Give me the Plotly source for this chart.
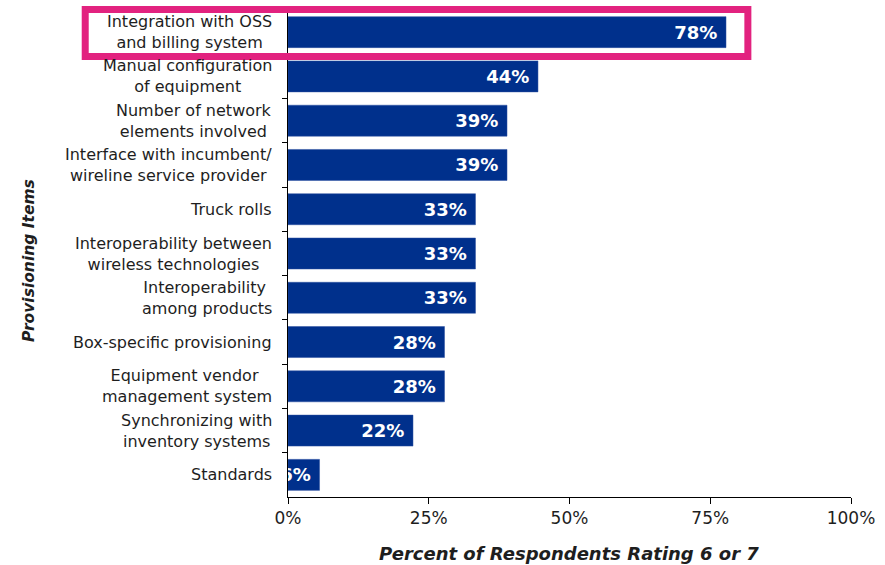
import plotly.graph_objects as go

categories = [
    "Integration with OSS<br>and billing system",
    "Manual configuration<br>of equipment",
    "Number of network<br>elements involved",
    "Interface with incumbent/<br>wireline service provider",
    "Truck rolls",
    "Interoperability between<br>wireless technologies",
    "Interoperability <br>among products",
    "Box-specific provisioning",
    "Equipment vendor <br>management system",
    "Synchronizing with<br>inventory systems",
    "Standards",
]
values = [77.8, 44.4, 38.9, 38.9, 33.3, 33.3, 33.3, 27.8, 27.8, 22.2, 5.6]
x_ticks = [0, 25, 50, 75, 100]
x_tick_labels = ["0%", "25%", "50%", "75%", "100%"]
x_title = "Percent of Respondents Rating 6 or 7"
y_title = "Provisioning Items"

FONT = "DejaVu Sans, Liberation Sans, sans-serif"
BAR = "#00308C"
PINK = "#E2227F"
TXT = "#1e1e1e"

L, R, T, B = 288, 32, 10, 68
W, H = 885, 565
PW, PH = W - L - R, H - T - B

def px_x(p):
    return (p - L) / PW

def px_y(p):
    return (H - B - p) / PH

fig = go.Figure()
fig.add_trace(go.Bar(
    y=categories, x=values, orientation="h",
    marker=dict(color=BAR, line=dict(color="#2a4fa0", width=0.5)),
    width=0.7,
    texttemplate="<b>%{x:.0f}%</b>\u00a0",
    textposition="inside", insidetextanchor="end",
    constraintext="none", textangle=0,
    textfont=dict(family=FONT, size=18, color="white"),
    cliponaxis=True,
    hoverinfo="skip",
))

annotations = []
for c in categories:
    annotations.append(dict(
        x=0, xref="paper", y=c, yref="y", text=c, showarrow=False,
        xanchor="right", yanchor="middle", align="center", xshift=-14,
        font=dict(family=FONT, size=16, color=TXT),
    ))
annotations.append(dict(
    x=px_x(28), xref="paper", y=px_y(260), yref="paper",
    text="<b><i>%s</i></b>" % y_title, textangle=-90, showarrow=False,
    xanchor="center", yanchor="middle",
    font=dict(family=FONT, size=15.5, color=TXT),
))
annotations.append(dict(
    x=px_x(570), xref="paper", y=px_y(553), yref="paper",
    text="<b><i>%s</i></b>" % x_title, showarrow=False,
    xanchor="center", yanchor="middle",
    font=dict(family=FONT, size=18, color=TXT),
))

fig.update_layout(
    width=W, height=H,
    margin=dict(l=L, r=R, t=T, b=B, pad=0),
    paper_bgcolor="white", plot_bgcolor="white",
    showlegend=False,
    annotations=annotations,
    shapes=[dict(
        type="rect", xref="paper", yref="paper",
        x0=px_x(84.5), x1=px_x(749.5), y0=px_y(56.5), y1=px_y(9.5),
        line=dict(color=PINK, width=7), fillcolor="rgba(0,0,0,0)",
        layer="above",
    )],
    xaxis=dict(
        range=[0, 100], tickvals=x_ticks, ticktext=x_tick_labels,
        ticks="outside", ticklen=6, tickcolor="black", tickwidth=1,
        showline=True, linecolor="black", linewidth=1,
        showgrid=False, zeroline=False,
        tickfont=dict(family=FONT, size=17, color=TXT),
        fixedrange=True,
    ),
    yaxis=dict(
        type="category", autorange="reversed",
        showticklabels=False,
        ticks="outside", ticklen=5, tickcolor="black", tickson="boundaries",
        showline=True, linecolor="black", linewidth=1,
        showgrid=False, zeroline=False, fixedrange=True,
    ),
)

fig.write_html("out.html")
